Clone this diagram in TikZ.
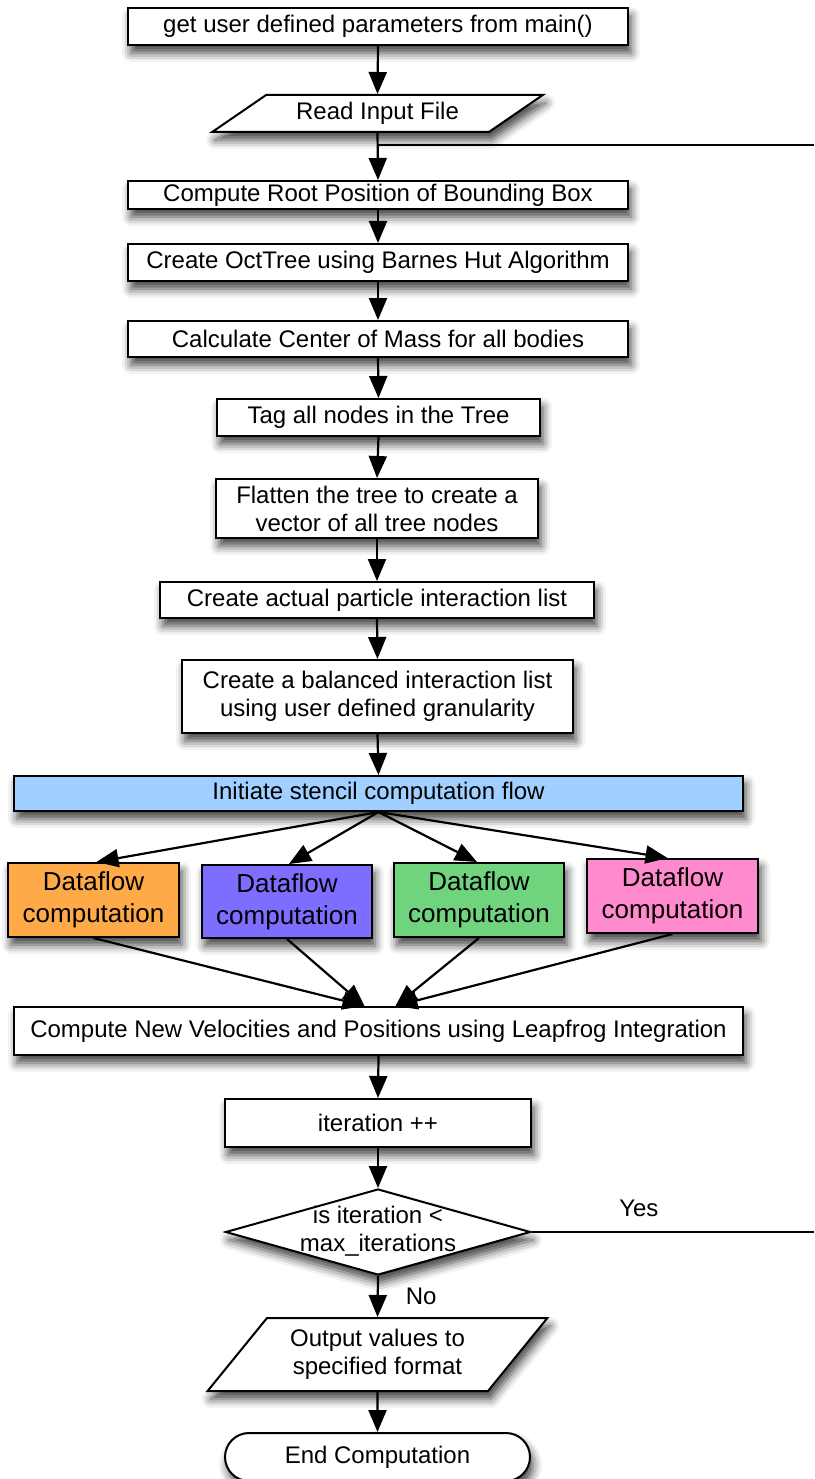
\documentclass[tikz,border=0pt]{standalone}
\usepackage{fontspec}
\setmainfont{Liberation Sans}
\usetikzlibrary{shapes.geometric,shapes.misc,arrows.meta,shadows.blur,calc}

\definecolor{flowblue}{RGB}{160,208,255}
\definecolor{dforange}{RGB}{255,170,72}
\definecolor{dfpurple}{RGB}{126,110,255}
\definecolor{dfgreen}{RGB}{112,212,126}
\definecolor{dfpink}{RGB}{255,138,206}

\tikzset{
  base/.style={draw=black, line width=2pt, inner sep=0pt, align=center,
    font=\fontsize{24pt}{28pt}\selectfont, fill=white,
    blur shadow={shadow xshift=3pt, shadow yshift=-8pt,
      shadow blur radius=9pt, shadow opacity=75}},
  proc/.style={base, rectangle},
  io/.style={base, trapezium, trapezium stretches=true},
  flowbox/.style={proc, font=\fontsize{26pt}{32pt}\selectfont,
    minimum width=171pt, minimum height=74pt},
  conn/.style={line width=2.2pt, -{Triangle[width=18pt,length=22pt]}},
  plain/.style={line width=2.2pt},
  lbl/.style={font=\fontsize{24pt}{28pt}\selectfont, inner sep=0pt}
}

\begin{document}
\begin{tikzpicture}[x=1pt,y=-1pt]
\useasboundingbox (0,0) rectangle (814,1479);

% main column
\node[proc, minimum width=500pt, minimum height=37pt] (params) at (378,26.5)
  {get user defined parameters from main()};
\node[io, minimum width=331pt, minimum height=37pt,
  trapezium left angle=29.6, trapezium right angle=150.4] (read) at (377.5,113.5)
  {Read Input File};
\node[proc, minimum width=500pt, minimum height=28pt] (root) at (378,195)
  {Compute Root Position of Bounding Box};
\node[proc, minimum width=500pt, minimum height=37pt] (oct) at (378,262.5)
  {Create OctTree using Barnes Hut Algorithm};
\node[proc, minimum width=500pt, minimum height=36pt] (com) at (378,339)
  {Calculate Center of Mass for all bodies};
\node[proc, minimum width=323pt, minimum height=37pt] (tag) at (378.5,417.5)
  {Tag all nodes in the Tree};
\node[proc, minimum width=322pt, minimum height=59pt] (flat) at (377,508.5)
  {Flatten the tree to create a\\vector of all tree nodes};
\node[proc, minimum width=434pt, minimum height=36pt] (actual) at (377,600)
  {Create actual particle interaction list};
\node[proc, minimum width=391pt, minimum height=73pt] (bal) at (377.5,696.5)
  {Create a balanced interaction list\\using user defined granularity};
\node[proc, fill=flowblue, minimum width=729pt, minimum height=35pt] (init) at (378.5,793.5)
  {Initiate stencil computation flow};

% parallel dataflow branches
\node[flowbox, fill=dforange] (dfa) at (93.5,900) {Dataflow\\computation};
\node[flowbox, fill=dfpurple, minimum width=170pt, minimum height=73pt] (dfb) at (287,901.5) {Dataflow\\computation};
\node[flowbox, fill=dfgreen, minimum width=170pt] (dfc) at (479,900) {Dataflow\\computation};
\node[flowbox, fill=dfpink] (dfd) at (672.5,896) {Dataflow\\computation};

\node[proc, minimum width=729pt, minimum height=48pt] (cn) at (378.5,1031)
  {Compute New Velocities and Positions using Leapfrog Integration};
\node[proc, minimum width=306pt, minimum height=48pt] (iter) at (378,1123)
  {iteration ++};
\node[base, diamond, minimum width=305pt, minimum height=86pt] (dec) at (378,1232)
  {\makebox[0pt]{\smash{\raisebox{-6pt}{\begin{tabular}{@{}c@{}}is iteration <\\max\_iterations\end{tabular}}}}};
\node[io, minimum width=341pt, minimum height=73pt,
  trapezium left angle=47, trapezium right angle=133] (out) at (377.5,1354.5)
  {Output values to\\specified format};
\node[base, rounded rectangle, minimum width=305pt, minimum height=48pt] (done) at (377.5,1457)
  {End Computation};

% loop-back lines leaving the frame on the right
\coordinate (fbR) at (814,145);
\coordinate (fbJ) at (378,145);
\coordinate (yesR) at (814,1232);

% connectors
\draw[conn] (params.south) -- (read.north);
\draw[conn] (read.south) -- (root.north);
\draw[plain] (fbR) -- (fbJ);
\draw[conn] (root.south) -- (oct.north);
\draw[conn] (oct.south) -- (com.north);
\draw[conn] (com.south) -- (tag.north);
\draw[conn] (tag.south) -- (flat.north);
\draw[conn] (flat.south) -- (actual.north);
\draw[conn] (actual.south) -- (bal.north);
\draw[conn] (bal.south) -- (init.north);

\draw[conn] (init.south) -- ($(dfa.north)+(3,0)$);
\draw[conn] (init.south) -- ($(dfb.north)+(2,0)$);
\draw[conn] (init.south) -- ($(dfc.north)+(-2,0)$);
\draw[conn] (init.south) -- ($(dfd.north)+(-5,0)$);

\coordinate (cnL) at ($(cn.north)+(-14,0)$);
\coordinate (cnR) at ($(cn.north)+(17,0)$);
\draw[conn] (dfa.south) -- (cnL);
\draw[conn] (dfb.south) -- (cnL);
\draw[conn] (dfc.south) -- (cnR);
\draw[conn] (dfd.south) -- (cnR);

\draw[conn] (cn.south) -- (iter.north);
\draw[conn] (iter.south) -- (dec.north);
\draw[plain] (dec.east) -- node[lbl, pos=0.38, above=14pt] {Yes} (yesR);
\draw[conn] (dec.south) -- node[lbl, anchor=west, xshift=27pt] {No} (out.north);
\draw[conn] (out.south) -- (done.north);
\end{tikzpicture}
\end{document}
